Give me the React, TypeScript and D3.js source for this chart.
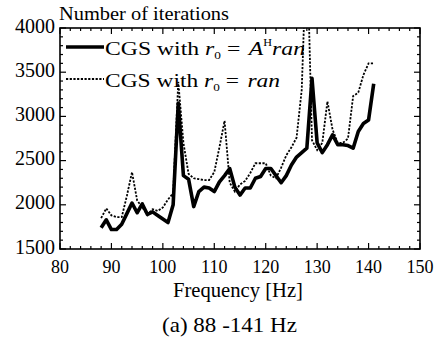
import React from "react";
import * as d3 from "d3";

// frequency samples [Hz]
const freqs = d3.range(88, 142);

// iterations, CGS with r0 = A^H ran
const itersAH = [
  1740, 1830, 1720, 1720, 1780, 1900, 2020, 1910, 2010, 1890,
  1920, 1880, 1840, 1800, 2000, 3150, 2330, 2290, 1980, 2150,
  2200, 2190, 2150, 2260, 2330, 2410, 2200, 2110, 2190, 2190,
  2300, 2320, 2410, 2410, 2330, 2250, 2330, 2450, 2540, 2590,
  2640, 3430, 2700, 2590, 2680, 2790, 2680, 2680, 2670, 2640,
  2830, 2920, 2960, 3370,
];

// iterations, CGS with r0 = ran
const itersRan = [
  1850, 1960, 1880, 1860, 1860, 2100, 2370, 2050, 1970, 1890,
  1950, 1930, 1970, 2060, 2130, 3390, 2700, 2350, 2300, 2290,
  2280, 2280, 2370, 2650, 2950, 2250, 2150, 2230, 2270, 2360,
  2470, 2470, 2470, 2330, 2300, 2420, 2560, 2650, 2760, 3300,
  5000, 2730, 2620, 2700, 3170, 2850, 2700, 2700, 2750, 3230,
  3270, 3470, 3600, 3600,
];

const xTicks = [80, 90, 100, 110, 120, 130, 140, 150];
const yTicks = [1500, 2000, 2500, 3000, 3500, 4000];

const font = (size: number): React.CSSProperties => ({
  fontFamily: "Liberation Serif",
  fontSize: size,
});

export default function App() {
  const left = 60, right = 420, top = 28, bottom = 249;

  const x = d3.scaleLinear().domain([80, 150]).range([left, right]);
  const y = d3.scaleLinear().domain([1500, 4000]).range([bottom, top]);

  const line = d3
    .line<number>()
    .x((_, i) => x(freqs[i]))
    .y((d) => y(d));

  const xMinor = d3.range(80, 151, 2);
  const yMinor = d3.range(1500, 4001, 100);

  return (
    <svg width={436} height={339} style={{ position: "absolute", left: 0, top: 0 }}>
      <rect width={436} height={339} fill="#fff" />
      <defs>
        <clipPath id="plot">
          <rect x={left} y={top} width={right - left} height={bottom - top} />
        </clipPath>
      </defs>

      {/* ticks, all pointing inward */}
      <g stroke="#000" strokeWidth={1.2}>
        {xMinor.map((t) => {
          const len = t % 10 === 0 ? 6 : 3;
          return (
            <g key={"x" + t}>
              <line x1={x(t)} x2={x(t)} y1={bottom} y2={bottom - len} />
              <line x1={x(t)} x2={x(t)} y1={top} y2={top + len} />
            </g>
          );
        })}
        {yMinor.map((t) => {
          const len = t % 500 === 0 ? 6 : 3;
          return (
            <g key={"y" + t}>
              <line x1={left} x2={left + len} y1={y(t)} y2={y(t)} />
              <line x1={right} x2={right - len} y1={y(t)} y2={y(t)} />
            </g>
          );
        })}
      </g>

      <g clipPath="url(#plot)" fill="none" stroke="#000">
        <path d={line(itersRan) || ""} strokeWidth={1.8} strokeDasharray="2.2,1.5" />
        <path d={line(itersAH) || ""} strokeWidth={3.6} strokeLinejoin="round" />
      </g>

      <rect
        x={left}
        y={top}
        width={right - left}
        height={bottom - top}
        fill="none"
        stroke="#000"
        strokeWidth={1.6}
      />

      {/* tick labels */}
      {yTicks.map((t) => (
        <text key={t} x={55} y={y(t) + 4.5} textAnchor="end" style={font(20)}>
          {t}
        </text>
      ))}
      {xTicks.map((t) => (
        <text key={t} x={x(t)} y={272.5} textAnchor="middle" style={font(18)}>
          {t}
        </text>
      ))}

      <text x={59} y={19.5} style={font(18)} textLength={170} lengthAdjust="spacingAndGlyphs">
        Number of iterations
      </text>
      <text x={173} y={297} style={font(20)} textLength={130} lengthAdjust="spacingAndGlyphs">
        Frequency [Hz]
      </text>
      <text x={162} y={331.5} style={font(22)} textLength={135} lengthAdjust="spacingAndGlyphs">
        (a) 88 -141 Hz
      </text>

      {/* legend */}
      <line x1={66} x2={104} y1={47} y2={47} stroke="#000" strokeWidth={3.6} />
      <text x={105} y={55} style={font(19.5)} textLength={200} lengthAdjust="spacingAndGlyphs">
        CGS with <tspan fontStyle="italic">r</tspan>
        <tspan style={{ fontSize: 11 }} dy={4}>0</tspan>
        <tspan dy={-4} dx={5}>=</tspan>
        <tspan fontStyle="italic" dx={7}>A</tspan>
        <tspan style={{ fontSize: 10 }} dy={-9}>H</tspan>
        <tspan fontStyle="italic" dy={9}>ran</tspan>
      </text>
      <line
        x1={66}
        x2={104}
        y1={79}
        y2={79}
        stroke="#000"
        strokeWidth={1.8}
        strokeDasharray="2.2,1.5"
      />
      <text x={105} y={87} style={font(19.5)} textLength={175} lengthAdjust="spacingAndGlyphs">
        CGS with <tspan fontStyle="italic">r</tspan>
        <tspan style={{ fontSize: 11 }} dy={4}>0</tspan>
        <tspan dy={-4} dx={5}>=</tspan>
        <tspan fontStyle="italic" dx={7}>ran</tspan>
      </text>
    </svg>
  );
}
